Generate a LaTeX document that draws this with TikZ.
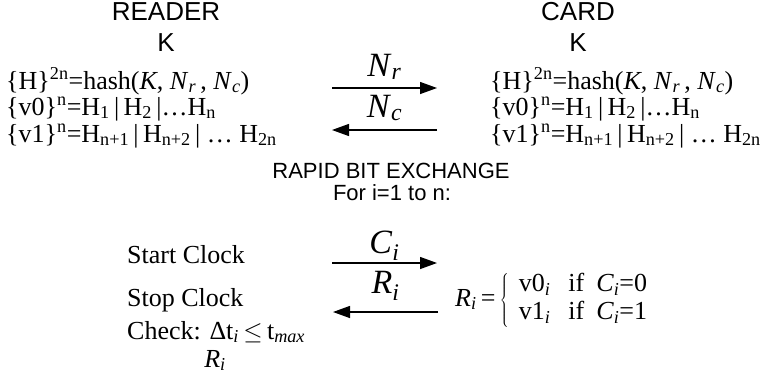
\documentclass[tikz,border=0pt]{standalone}
\usepackage{fontspec}
\setmainfont{Liberation Serif}
\setsansfont{Liberation Sans}
\usetikzlibrary{arrows.meta,positioning}

\newcommand{\hashline}{\{H\}\textsuperscript{2n}=hash(\textit{K}, \textit{N}\textsubscript{\textit{r}}\,, \textit{N}\textsubscript{\textit{c}})}
\newcommand{\vzeroline}{\{v0\}\textsuperscript{n}=H\textsubscript{1}\,|\,H\textsubscript{2}\,|\ldots H\textsubscript{n}}
\newcommand{\voneline}{\{v1\}\textsuperscript{n}=H\textsubscript{n+1}\,|\,H\textsubscript{n+2}\,|\ \ldots\ H\textsubscript{2n}}

\begin{document}
\begin{tikzpicture}[x=1pt,y=-1pt,
  party/.style={font=\sffamily\fontsize{26}{30}\selectfont,anchor=base,inner sep=0pt},
  phase/.style={font=\sffamily\fontsize{22}{26}\selectfont,anchor=base,inner sep=0pt},
  eqn/.style={font=\fontsize{26}{28}\selectfont,anchor=base west,inner sep=0pt},
  msg/.style={-{Triangle[length=17pt,width=12pt]},line width=1.3pt},
  msglbl/.style={font=\fontsize{34}{34}\selectfont,inner sep=0pt,anchor=base}]
  \useasboundingbox (0,0) rectangle (761,381);

  % Reader and card
  \node[party] (reader) at (166,20) {READER};
  \node[party] (readerK) at (166,51) {K};
  \node[party] (card) at (578,20) {CARD};
  \node[party] (cardK) at (578,51) {K};

  % Key derivation on both sides
  \node[eqn] (hashL) at (6,89) {\hashline};
  \node[eqn] (vzeroL) at (6,115) {\vzeroline};
  \node[eqn] (voneL) at (6,142) {\voneline};
  \node[eqn] (hashR) at (490,89) {\hashline};
  \node[eqn] (vzeroR) at (490,115) {\vzeroline};
  \node[eqn] (voneR) at (490,142) {\voneline};

  % Nonce exchange
  \coordinate (nrS) at (332,88);
  \coordinate (nrE) at (437,88);
  \coordinate (ncS) at (437,130);
  \coordinate (ncE) at (332,130);
  \draw[msg] (nrS) -- node[msglbl,yshift=12pt] (nrlbl) {\textit{N}\textsubscript{\textit{r}}} (nrE);
  \draw[msg] (ncS) -- node[msglbl,yshift=13pt] (nclbl) {\textit{N}\textsubscript{\textit{c}}} (ncE);

  % Rapid bit exchange
  \node[phase] (rbe) at (391,178) {RAPID BIT EXCHANGE};
  \node[phase] (loop) at (392,200) {For i=1 to n:};

  \node[eqn] (start) at (127,263) {Start Clock};
  \node[eqn] (stop) at (127,306) {Stop Clock};
  \node[eqn] (check) at (127,339) {Check: Δt\textsubscript{\textit{i}}\,$\leq$\,t\textsubscript{\textit{max}}};
  \node[eqn,anchor=base] (riL) at (215,367) {\textit{R}\textsubscript{\textit{i}}};

  \coordinate (ciS) at (332,263);
  \coordinate (ciE) at (437,263);
  \coordinate (riS) at (438,312);
  \coordinate (riE) at (333,312);
  \draw[msg] (ciS) -- node[msglbl,yshift=10pt] (cilbl) {\textit{C}\textsubscript{\textit{i}}} (ciE);
  \draw[msg] (riS) -- node[msglbl,yshift=19pt] (rilbl) {\textit{R}\textsubscript{\textit{i}}} (riE);

  % Response rule on the card
  \node[eqn,anchor=west] (rule) at (455,300)
    {\textit{R}\textsubscript{\textit{i}}\,=\,$\left\{\hspace{10pt}\begin{tabular}{@{}l@{}}
      v0\textsubscript{\textit{i}}\hspace{18pt}if\hspace{12pt}\textit{C}\textsubscript{\textit{i}}=0\\
      v1\textsubscript{\textit{i}}\hspace{18pt}if\hspace{12pt}\textit{C}\textsubscript{\textit{i}}=1
    \end{tabular}\right.$};
\end{tikzpicture}
\end{document}
